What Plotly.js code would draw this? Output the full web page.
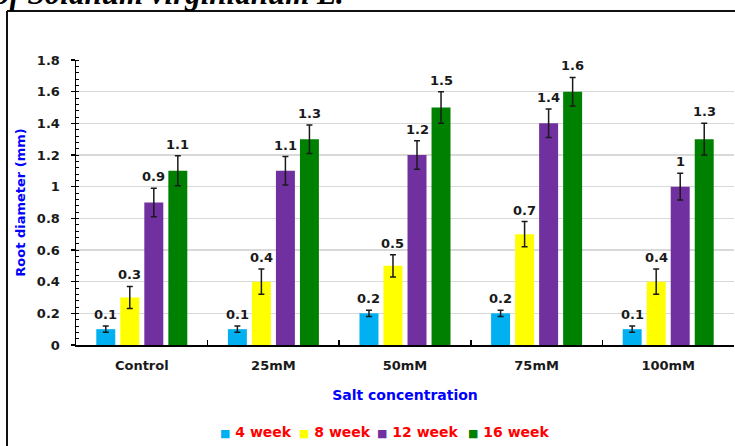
<!DOCTYPE html>
<html>
<head>
<meta charset="utf-8">
<script src="https://cdn.plot.ly/plotly-3.0.1.min.js"></script>
<style>
  html, body { margin: 0; padding: 0; background: #ffffff; }
  #chart { width: 735px; height: 446px; }
</style>
</head>
<body>
<div id="chart"></div>
<script>
// Root diameter by salt concentration and week
const categories = ['Control', '25mM', '50mM', '75mM', '100mM'];
const seriesNames = ['4 week', '8 week', '12 week', '16 week'];
const week4  = [0.1, 0.1, 0.2, 0.2, 0.1];
const week8  = [0.3, 0.4, 0.5, 0.7, 0.4];
const week12 = [0.9, 1.1, 1.2, 1.4, 1.0];
const week16 = [1.1, 1.3, 1.5, 1.6, 1.3];
const err4   = [0.02, 0.02, 0.02, 0.02, 0.02];
const err8   = [0.07, 0.08, 0.07, 0.08, 0.08];
const err12  = [0.09, 0.09, 0.09, 0.09, 0.085];
const err16  = [0.095, 0.09, 0.1, 0.09, 0.1];
const colors = ['#00b0f0', '#ffff00', '#7030a0', '#008000'];

const series = [week4, week8, week12, week16];
const errors = [err4, err8, err12, err16];

const W = 735, H = 446;
const M = { l: 76, r: 1, t: 60, b: 101 };
const PW = W - M.l - M.r, PH = H - M.t - M.b;
// pixel -> paper helpers for decorations placed outside the plot area
const px = p => (p - M.l) / PW;
const py = p => (H - M.b - p) / PH;

const BARGAP = 0.27;
const FONT = 'DejaVu Sans';

const traces = series.map((vals, j) => ({
  type: 'bar',
  name: seriesNames[j],
  x: categories,
  y: vals,
  marker: { color: colors[j] },
  error_y: { type: 'data', array: errors[j], visible: true, color: '#1a1a1a', thickness: 1.5, width: 3 },
  showlegend: false,
  hoverinfo: 'x+y+name'
}));

const annotations = [];
// value labels above each error bar
series.forEach((vals, j) => {
  vals.forEach((v, i) => {
    annotations.push({
      x: i + (j - 1.5) * (1 - BARGAP) / 4,
      y: v + errors[j][i],
      xref: 'x', yref: 'y',
      text: String(v),
      showarrow: false,
      yanchor: 'bottom',
      yshift: 2,
      font: { family: FONT, size: 13, weight: 'bold', color: '#1a1a1a' }
    });
  });
});

// legend row
const legendX = [218, 297, 375, 466];
seriesNames.forEach((n, j) => {
  annotations.push({
    xref: 'paper', yref: 'paper',
    x: px(legendX[j]), y: py(432),
    xanchor: 'left', yanchor: 'middle',
    showarrow: false,
    text: '<span style="color:' + colors[j] + ';font-size:11px">■</span> ' + n,
    font: { family: FONT, size: 14, weight: 'bold', color: '#ff0000' }
  });
});

// caption line running above the frame
annotations.push({
  xref: 'paper', yref: 'paper',
  x: px(346), y: py(13),
  xanchor: 'right', yanchor: 'bottom',
  showarrow: false,
  text: '<b><i>of Solanum virginianum L.</i></b>',
  font: { family: 'Liberation Serif', size: 31, color: '#000000' }
});

const layout = {
  width: W, height: H,
  margin: M,
  paper_bgcolor: '#ffffff',
  plot_bgcolor: '#ffffff',
  bargap: BARGAP,
  bargroupgap: 0.21,
  barmode: 'group',
  showlegend: false,
  xaxis: {
    type: 'category',
    showline: true, linecolor: '#000000', linewidth: 1.5,
    ticks: 'inside', tickson: 'boundaries', ticklen: 5, tickcolor: '#000000', tickwidth: 1.5,
    ticklabelstandoff: 8,
    tickfont: { family: FONT, size: 13, weight: 'bold', color: '#1a1a1a' },
    title: { text: 'Salt concentration', standoff: 18,
             font: { family: FONT, size: 14, weight: 'bold', color: '#0000ff' } },
    showgrid: false, zeroline: false, fixedrange: true
  },
  yaxis: {
    range: [0, 1.8], dtick: 0.2, tick0: 0,
    showline: true, linecolor: '#000000', linewidth: 1.5,
    ticks: 'outside', ticklen: 4, tickcolor: '#000000', tickwidth: 1.5,
    ticklabelstandoff: 8,
    minor: { dtick: 0.04, ticks: 'inside', ticklen: 3, tickcolor: '#000000', tickwidth: 1, showgrid: false },
    tickfont: { family: FONT, size: 13, weight: 'bold', color: '#1a1a1a' },
    showgrid: true, gridcolor: '#d9d9d9', gridwidth: 1.5,
    zeroline: false, fixedrange: true,
    title: { text: 'Root diameter (mm)', standoff: 8,
             font: { family: FONT, size: 13, weight: 'bold', color: '#0000ff' } }
  },
  annotations: annotations,
  shapes: [
    { type: 'line', xref: 'paper', yref: 'paper', x0: px(7), x1: px(7), y0: py(11), y1: py(460),
      line: { color: '#111111', width: 2 } },
    { type: 'line', xref: 'paper', yref: 'paper', x0: px(7), x1: px(760), y0: py(11), y1: py(11),
      line: { color: '#111111', width: 2 } }
  ]
};

Plotly.newPlot('chart', traces, layout, { displayModeBar: false, staticPlot: true });
</script>
</body>
</html>
